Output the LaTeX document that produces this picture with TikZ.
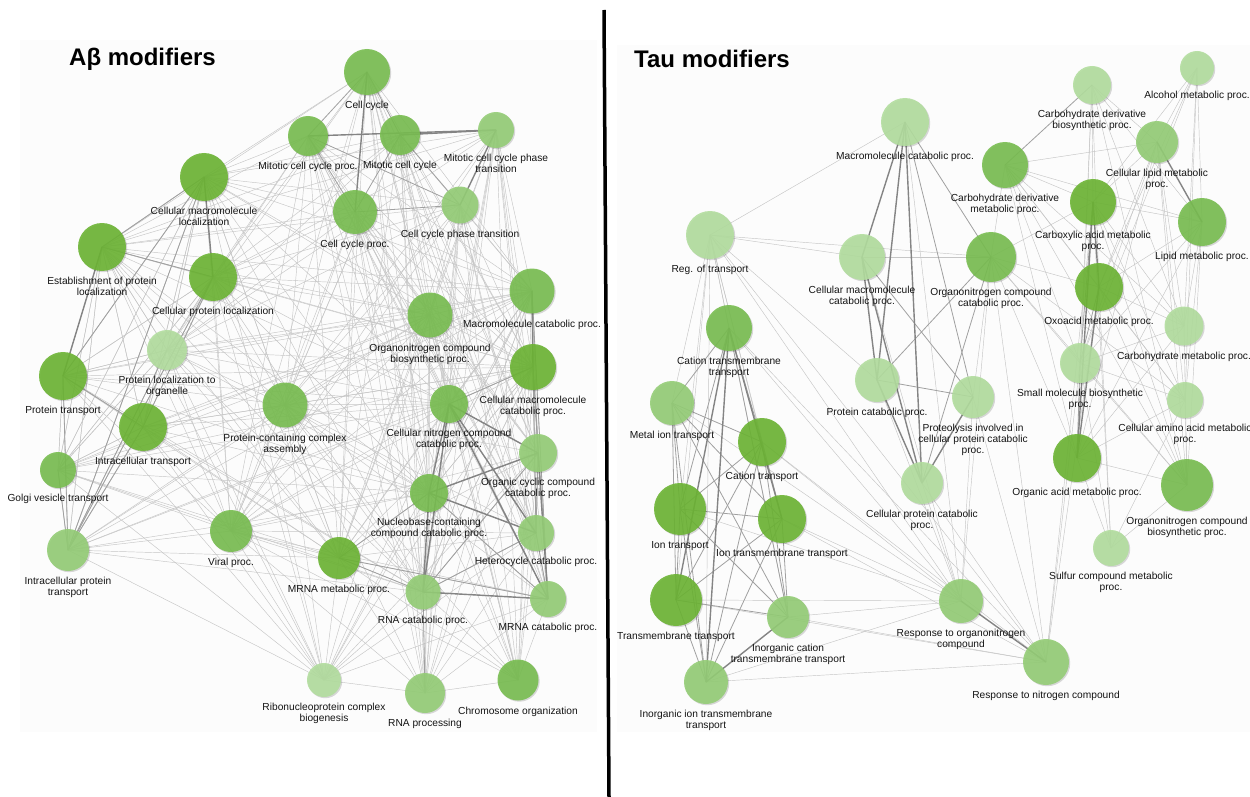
\documentclass[tikz,border=0pt]{standalone}
\usepackage{fontspec}
\setmainfont{Liberation Sans}
\usetikzlibrary{shadows}
\definecolor{gA}{RGB}{108,180,52}
\definecolor{gB}{RGB}{120,189,80}
\definecolor{gC}{RGB}{148,205,118}
\definecolor{gD}{RGB}{178,221,158}
\definecolor{edgethin}{RGB}{198,198,198}
\definecolor{edgemed}{RGB}{160,160,160}
\definecolor{edgehvy}{RGB}{132,132,132}
\pgfdeclarelayer{back}
\pgfdeclarelayer{edges}
\pgfsetlayers{back,edges,main}
\tikzstyle{term} = [circle, inner sep=0pt, draw=none, fill opacity=0.9, text opacity=1, drop shadow={shadow xshift=1.2pt, shadow yshift=-1.2pt, opacity=0.15, fill=black}]
\tikzset{rad/.style={minimum size={2*#1}}}
\tikzstyle{thinedge} = [draw=edgethin, line width=0.45pt]
\tikzstyle{mededge} = [draw=edgemed, line width=0.8pt]
\tikzstyle{hvyedge} = [draw=edgehvy, line width=1.4pt]
\tikzstyle{title} = [font=\fontsize{24}{27}\selectfont\bfseries, inner sep=0pt, anchor=west]
\tikzset{every label/.style={font=\fontsize{10.2}{11}\selectfont, align=center, text=black!92, inner sep=1pt, text opacity=1, fill opacity=1}}

\begin{document}
\begin{tikzpicture}[x=1pt, y=-1pt, label distance=5pt]
  \useasboundingbox (0,0) rectangle (1250,797);
  \begin{pgfonlayer}{back}
    \fill[black!1.2] (20,40) rectangle (597,732);
    \fill[black!1.2] (617,45) rectangle (1250,732);
  \end{pgfonlayer}
  \draw[line width=3.5pt] (604,10) -- (609,797);
  \node (titleA) [title] at (69,59) {Aβ modifiers};
  \node (titleT) [title] at (634,59) {Tau modifiers};

  % A-beta network
  \node (cc) [term, rad=23, fill=gB, label=below:Cell cycle] at (367,72) {};
  \node (mccp) [term, rad=20, fill=gB, label=below:Mitotic cell cycle proc.] at (308,136) {};
  \node (mcc) [term, rad=20, fill=gB, label=below:Mitotic cell cycle] at (400,135) {};
  \node (mccpt) [term, rad=18, fill=gC, label={below:{Mitotic cell cycle phase\\transition}}] at (496,130) {};
  \node (ccp) [term, rad=22, fill=gB, label=below:Cell cycle proc.] at (355,212) {};
  \node (ccpt) [term, rad=18.5, fill=gC, label=below:Cell cycle phase transition] at (460,205) {};
  \node (cml) [term, rad=24, fill=gA, label={below:{Cellular macromolecule\\localization}}] at (204,177) {};
  \node (epl) [term, rad=24, fill=gA, label={below:{Establishment of protein\\localization}}] at (102,247) {};
  \node (cpl) [term, rad=24, fill=gA, label=below:Cellular protein localization] at (213,277) {};
  \node (mcp) [term, rad=22.5, fill=gB, label=below:Macromolecule catabolic proc.] at (532,291) {};
  \node (obp) [term, rad=22.5, fill=gB, label={below:{Organonitrogen compound\\biosynthetic proc.}}] at (430,315) {};
  \node (plo) [term, rad=20, fill=gD, label={below:{Protein localization to\\organelle}}] at (167,350) {};
  \node (cmcp) [term, rad=23, fill=gA, label={below:{Cellular macromolecule\\catabolic proc.}}] at (533,367) {};
  \node (pt) [term, rad=24, fill=gA, label=below:Protein transport] at (63,376) {};
  \node (it) [term, rad=24, fill=gA, label=below:Intracellular transport] at (143,427) {};
  \node (pcca) [term, rad=22.5, fill=gB, label={below:{Protein-containing complex\\assembly}}] at (285,405) {};
  \node (cncc) [term, rad=19, fill=gB, label={below:{Cellular nitrogen compound\\catabolic proc.}}] at (449,404) {};
  \node (occp) [term, rad=19, fill=gC, label={below:{Organic cyclic compound\\catabolic proc.}}] at (538,453) {};
  \node (gvt) [term, rad=18, fill=gB, label=below:Golgi vesicle transport] at (58,470) {};
  \node (ncc) [term, rad=19, fill=gB, label={below:{Nucleobase-containing\\compound catabolic proc.}}] at (429,493) {};
  \node (hcp) [term, rad=18, fill=gC, label=below:Heterocycle catabolic proc.] at (536,533) {};
  \node (vp) [term, rad=21, fill=gB, label=below:Viral proc.] at (231,531) {};
  \node (mmp) [term, rad=21, fill=gA, label=below:MRNA metabolic proc.] at (339,558) {};
  \node (ipt) [term, rad=21, fill=gC, label={below:{Intracellular protein\\transport}}] at (68,550) {};
  \node (rcp) [term, rad=17.5, fill=gC, label=below:RNA catabolic proc.] at (423,592) {};
  \node (mrcp) [term, rad=18, fill=gC, label=below:MRNA catabolic proc.] at (548,599) {};
  \node (rcb) [term, rad=17, fill=gD, label={below:{Ribonucleoprotein complex\\biogenesis}}] at (324,680) {};
  \node (rp) [term, rad=20, fill=gC, label=below:RNA processing] at (425,693) {};
  \node (co) [term, rad=20.5, fill=gB, label=below:Chromosome organization] at (518,680) {};

  % Tau network
  \node (alc) [term, rad=17, fill=gD, label=below:Alcohol metabolic proc.] at (1197,68) {};
  \node (cdb) [term, rad=19, fill=gD, label={below:{Carbohydrate derivative\\biosynthetic proc.}}] at (1092,85) {};
  \node (mcpT) [term, rad=24, fill=gD, label=below:Macromolecule catabolic proc.] at (905,122) {};
  \node (clm) [term, rad=21, fill=gC, label={below:{Cellular lipid metabolic\\proc.}}] at (1157,142) {};
  \node (cdm) [term, rad=23, fill=gB, label={below:{Carbohydrate derivative\\metabolic proc.}}] at (1005,165) {};
  \node (cam) [term, rad=23, fill=gA, label={below:{Carboxylic acid metabolic\\proc.}}] at (1093,202) {};
  \node (lmp) [term, rad=24, fill=gB, label=below:Lipid metabolic proc.] at (1202,222) {};
  \node (rot) [term, rad=24, fill=gD, label=below:Reg. of transport] at (710,235) {};
  \node (cmcpT) [term, rad=23, fill=gD, label={below:{Cellular macromolecule\\catabolic proc.}}] at (862,257) {};
  \node (occT) [term, rad=25, fill=gB, label={below:{Organonitrogen compound\\catabolic proc.}}] at (991,257) {};
  \node (oxo) [term, rad=24, fill=gA, label=below:Oxoacid metabolic proc.] at (1099,287) {};
  \node (ctt) [term, rad=23, fill=gB, label={below:{Cation transmembrane\\transport}}] at (729,328) {};
  \node (chm) [term, rad=19.5, fill=gD, label=below:Carbohydrate metabolic proc.] at (1184,326) {};
  \node (smb) [term, rad=20, fill=gD, label={below:{Small molecule biosynthetic\\proc.}}] at (1080,363) {};
  \node (mit) [term, rad=22, fill=gC, label=below:Metal ion transport] at (672,403) {};
  \node (pcp) [term, rad=22, fill=gD, label=below:Protein catabolic proc.] at (877,380) {};
  \node (prot) [term, rad=21, fill=gD, label={below:{Proteolysis involved in\\cellular protein catabolic\\proc.}}] at (973,397) {};
  \node (caa) [term, rad=18, fill=gD, label={below:{Cellular amino acid metabolic\\proc.}}] at (1185,400) {};
  \node (ct) [term, rad=24, fill=gA, label=below:Cation transport] at (762,442) {};
  \node (iot) [term, rad=26, fill=gA, label=below:Ion transport] at (680,509) {};
  \node (itt) [term, rad=24, fill=gA, label=below:Ion transmembrane transport] at (782,519) {};
  \node (oam) [term, rad=24, fill=gA, label=below:Organic acid metabolic proc.] at (1077,458) {};
  \node (obpT) [term, rad=26, fill=gB, label={below:{Organonitrogen compound\\biosynthetic proc.}}] at (1187,485) {};
  \node (cpc) [term, rad=21, fill=gD, label={below:{Cellular protein catabolic\\proc.}}] at (922,483) {};
  \node (scm) [term, rad=18, fill=gD, label={below:{Sulfur compound metabolic\\proc.}}] at (1111,548) {};
  \node (tmt) [term, rad=26, fill=gA, label=below:Transmembrane transport] at (676,600) {};
  \node (ictt) [term, rad=21, fill=gC, label={below:{Inorganic cation\\transmembrane transport}}] at (788,617) {};
  \node (rorg) [term, rad=22, fill=gC, label={below:{Response to organonitrogen\\compound}}] at (961,601) {};
  \node (rnit) [term, rad=23, fill=gC, label=below:Response to nitrogen compound] at (1046,662) {};
  \node (iitt) [term, rad=22, fill=gC, label={below:{Inorganic ion transmembrane\\transport}}] at (706,682) {};

  \begin{pgfonlayer}{edges}
    % A-beta: thin similarity edges
    \foreach \a in {cc,mccp,mcc,mccpt,ccp,ccpt}
      \foreach \b in {cml,epl,cpl,plo,obp,pcca,mcp,cmcp,cncc,ncc,occp,hcp,rcp,mrcp,mmp,vp,co,rp}
        \draw[thinedge] (\a.center) -- (\b.center);
    \foreach \a in {cml,epl,cpl,plo,pt,it,gvt,ipt}
      \foreach \b in {cml,epl,cpl,plo,pt,it,gvt,ipt,pcca,vp,mmp,obp,rcb,cncc,ncc,mcp,cmcp,rcp}
        \draw[thinedge] (\a.center) -- (\b.center);
    \foreach \a in {mcp,cmcp,cncc,occp,ncc,hcp,rcp,mrcp}
      \foreach \b in {mcp,cmcp,cncc,occp,ncc,hcp,rcp,mrcp,obp,pcca,vp,mmp,rcb,rp,co}
        \draw[thinedge] (\a.center) -- (\b.center);
    \foreach \a/\b in {obp/pcca,obp/vp,obp/mmp,obp/rcb,obp/rp,obp/co,pcca/vp,pcca/mmp,pcca/rcb,
        pcca/rp,pcca/co,vp/mmp,vp/rcb,vp/rp,vp/co,mmp/rcb,mmp/rp,mmp/co,rcb/rp,rp/co}
      \draw[thinedge] (\a.center) -- (\b.center);
    \foreach \a/\b in {cc/mccp,cc/mcc,mcc/ccp,mccp/ccp,ccp/ccpt,mccp/ccpt,mcc/ccpt,epl/cml,epl/cpl,
        pt/ipt,pt/it,it/ipt,cml/ipt,cpl/ipt,plo/ipt,cpl/it,cml/pt,gvt/ipt,mmp/rcp,mmp/mrcp,mmp/ncc,
        cmcp/hcp,cmcp/occp,cmcp/mrcp,mcp/mrcp,ncc/mrcp,occp/hcp,hcp/mrcp,rcp/occp,rcp/hcp,cncc/cmcp,rcp/rp}
      \draw[mededge] (\a.center) -- (\b.center);
    \foreach \a/\b in {mccp/mccpt,mcc/mccpt,cc/ccp,mccpt/ccpt,cml/cpl,epl/pt,mcp/cmcp,cncc/ncc,cncc/occp,
        cncc/hcp,cncc/rcp,cncc/mrcp,ncc/occp,ncc/hcp,ncc/rcp,occp/mrcp,rcp/mrcp}
      \draw[hvyedge] (\a.center) -- (\b.center);

    % Tau
    \foreach \a/\b in {rot/mcpT,rot/cmcpT,rot/occT,rot/ctt,rot/mit,rot/ct,rot/iot,rot/itt,rot/tmt,
        rot/ictt,rot/iitt,rot/rorg,rot/rnit,rot/pcp,
        ctt/rorg,mit/rorg,ct/rorg,iot/rorg,itt/rorg,tmt/rorg,ictt/rorg,iitt/rorg,tmt/rnit,ictt/rnit,
        iitt/rnit,itt/rnit,ct/rnit,ctt/rnit,
        pcp/rorg,prot/rorg,cpc/rorg,occT/rorg,occT/rnit,cpc/rnit,mcpT/rorg,cmcpT/rorg,prot/rnit,
        occT/cdm,occT/cam,occT/oxo,occT/oam,occT/obpT,occT/smb,occT/caa,occT/prot,occT/cmcpT,
        cdb/cam,cdb/oxo,cdb/oam,cdb/smb,cdb/lmp,cdb/clm,cdb/obpT,cdb/chm,
        alc/clm,alc/lmp,alc/oxo,alc/cam,alc/smb,alc/caa,alc/chm,
        clm/cam,clm/cdm,clm/oxo,clm/oam,clm/smb,clm/chm,clm/caa,clm/obpT,
        cdm/cam,cdm/oxo,cdm/oam,cdm/lmp,cdm/chm,cdm/obpT,cdm/smb,cdm/caa,
        cam/lmp,cam/chm,cam/caa,cam/obpT,cam/scm,oxo/lmp,oxo/chm,oxo/caa,oxo/obpT,oxo/scm,
        oam/lmp,oam/chm,oam/caa,oam/obpT,oam/scm,lmp/chm,lmp/smb,lmp/caa,lmp/obpT,
        smb/caa,smb/chm,smb/obpT,smb/scm,caa/obpT,caa/scm,chm/obpT,obpT/scm,
        rnit/oxo,rnit/smb,rnit/cam}
      \draw[thinedge] (\a.center) -- (\b.center);
    \foreach \a/\b in {cdb/cdm,occT/pcp,occT/cpc,pcp/prot,mcpT/occT,mcpT/prot,cmcpT/prot,
        ctt/mit,ctt/ct,ctt/iot,ctt/ictt,mit/ct,mit/iot,mit/itt,mit/tmt,mit/iitt,mit/ictt,
        ct/iot,ct/itt,ct/tmt,ct/ictt,ct/iitt,iot/itt,iot/tmt,iot/ictt,iot/iitt,itt/tmt,itt/ictt,
        itt/iitt,tmt/ictt,tmt/iitt,oxo/smb,cam/smb,oam/smb}
      \draw[mededge] (\a.center) -- (\b.center);
    \foreach \a/\b in {ictt/iitt,rorg/rnit,mcpT/cmcpT,mcpT/pcp,mcpT/cpc,cmcpT/pcp,cmcpT/cpc,pcp/cpc,
        prot/cpc,cam/oxo,oxo/oam,cam/oam,clm/lmp,ctt/tmt,ctt/iitt,ctt/itt}
      \draw[hvyedge] (\a.center) -- (\b.center);
  \end{pgfonlayer}
\end{tikzpicture}
\end{document}
